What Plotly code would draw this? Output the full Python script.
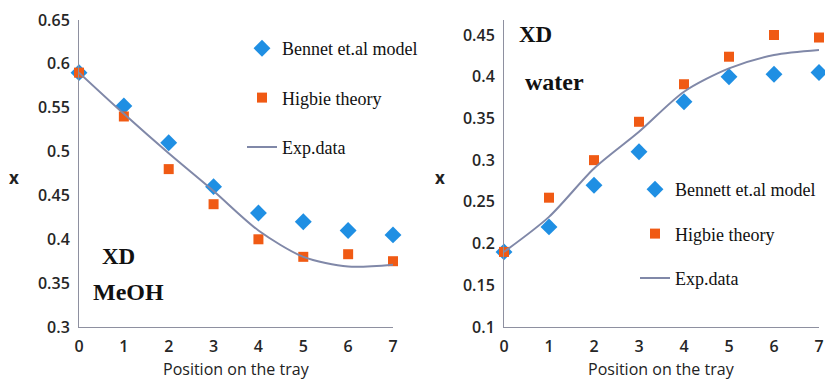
import plotly.graph_objects as go

# ---------------- data ----------------
positions = [0, 1, 2, 3, 4, 5, 6, 7]

meoh_bennet = [0.59, 0.552, 0.51, 0.46, 0.43, 0.42, 0.41, 0.405]
meoh_higbie = [0.59, 0.54, 0.48, 0.44, 0.40, 0.38, 0.383, 0.375]
meoh_exp = [0.59, 0.543, 0.498, 0.455, 0.41, 0.38, 0.369, 0.371]

water_bennett = [0.19, 0.22, 0.27, 0.31, 0.37, 0.40, 0.403, 0.405]
water_higbie = [0.19, 0.255, 0.30, 0.346, 0.391, 0.424, 0.45, 0.447]
water_exp = [0.19, 0.232, 0.29, 0.334, 0.382, 0.41, 0.426, 0.432]

x_tick_vals = [0, 1, 2, 3, 4, 5, 6, 7]
x_tick_text = ["0", "1", "2", "3", "4", "5", "6", "7"]
meoh_y_vals = [0.3, 0.35, 0.4, 0.45, 0.5, 0.55, 0.6, 0.65]
meoh_y_text = ["0.3", "0.35", "0.4", "0.45", "0.5", "0.55", "0.6", "0.65"]
water_y_vals = [0.1, 0.15, 0.2, 0.25, 0.3, 0.35, 0.4, 0.45]
water_y_text = ["0.1", "0.15", "0.2", "0.25", "0.3", "0.35", "0.4", "0.45"]

legend_left = ["Bennet et.al model", "Higbie theory", "Exp.data"]
legend_right = ["Bennett et.al model", "Higbie theory", "Exp.data"]
x_title = "Position on the tray"
y_title = "x"

# ---------------- style ----------------
W, H = 825, 379
BLUE = "#1f8fe3"
ORANGE = "#f05a14"
LINE = "#8088a8"
AXIS = "#8e90a0"
SERIF = "Liberation Serif"
SANS = "Open Sans"


def fx(px):
    return px / W


def fy(py):
    return 1 - py / H


fig = go.Figure()


def add_panel(xa, ya, legend, names, bennet, higbie, exp):
    fig.add_trace(go.Scatter(
        x=positions, y=bennet, mode="markers", name=names[0],
        marker=dict(symbol="diamond", size=13, color=BLUE),
        xaxis=xa, yaxis=ya, legend=legend, legendgroup=legend + "a",
        cliponaxis=False))
    fig.add_trace(go.Scatter(
        x=positions, y=higbie, mode="markers", name=names[1],
        marker=dict(symbol="square", size=10, color=ORANGE),
        xaxis=xa, yaxis=ya, legend=legend, legendgroup=legend + "b",
        cliponaxis=False))
    fig.add_trace(go.Scatter(
        x=positions, y=exp, mode="lines", name=names[2],
        line=dict(color=LINE, width=2, shape="spline", smoothing=0.8),
        xaxis=xa, yaxis=ya, legend=legend, legendgroup=legend + "c",
        cliponaxis=False))


add_panel("x", "y", "legend", legend_left, meoh_bennet, meoh_higbie, meoh_exp)
add_panel("x2", "y2", "legend2", legend_right, water_bennett, water_higbie, water_exp)

tickfont = dict(family=SANS, size=16, color="#262626", weight=600)

xcommon = dict(range=[0, 7], tickvals=x_tick_vals, ticktext=x_tick_text,
               showgrid=False, zeroline=False, showline=True,
               linecolor=AXIS, linewidth=1, ticks="", tickfont=tickfont,
               automargin=False, fixedrange=True, ticklabelstandoff=5)
ycommon = dict(showgrid=False, zeroline=False, showline=True,
               linecolor=AXIS, linewidth=1, ticks="", tickfont=tickfont,
               automargin=False, fixedrange=True, ticklabelstandoff=5)

ydom = [fy(327), fy(20)]

legend_common = dict(font=dict(family=SERIF, size=18, color="#111111"),
                     bgcolor="rgba(0,0,0,0)",
                     xanchor="left", yanchor="top", itemclick=False,
                     itemdoubleclick=False)

fig.update_layout(
    width=W, height=H,
    margin=dict(l=0, r=0, t=0, b=0),
    paper_bgcolor="white", plot_bgcolor="white",
    xaxis=dict(domain=[fx(79), fx(393)], anchor="y", **xcommon),
    yaxis=dict(domain=ydom, anchor="x", range=[0.3, 0.65],
               tickvals=meoh_y_vals, ticktext=meoh_y_text, **ycommon),
    xaxis2=dict(domain=[fx(504), fx(819)], anchor="y2", **xcommon),
    yaxis2=dict(domain=ydom, anchor="x2", range=[0.1, 0.468],
                tickvals=water_y_vals, ticktext=water_y_text, **ycommon),
    legend=dict(x=fx(242), y=fy(30), tracegroupgap=23, **legend_common),
    legend2=dict(x=fx(635), y=fy(171), tracegroupgap=18, **legend_common),
    showlegend=True,
)

annots = [
    # axis titles
    dict(text=x_title, x=fx(236), y=fy(369), font=dict(family=SANS, size=16, color="#222222")),
    dict(text=x_title, x=fx(661), y=fy(369), font=dict(family=SANS, size=16, color="#222222")),
    dict(text="<b>" + y_title + "</b>", x=fx(14), y=fy(178), font=dict(family=SANS, size=17, color="#222222")),
    dict(text="<b>" + y_title + "</b>", x=fx(440), y=fy(177), font=dict(family=SANS, size=17, color="#222222")),
    # panel labels
    dict(text="<b>XD</b>", x=fx(118), y=fy(256), font=dict(family=SERIF, size=23, color="#111111")),
    dict(text="<b>MeOH</b>", x=fx(128), y=fy(292), font=dict(family=SERIF, size=24, color="#111111")),
    dict(text="<b>XD</b>", x=fx(535), y=fy(35), font=dict(family=SERIF, size=23, color="#111111")),
    dict(text="<b>water</b>", x=fx(554), y=fy(82), font=dict(family=SERIF, size=24, color="#111111")),
]
for a in annots:
    fig.add_annotation(xref="paper", yref="paper", showarrow=False,
                       xanchor="center", yanchor="middle", **a)

fig.write_html("out.html")
